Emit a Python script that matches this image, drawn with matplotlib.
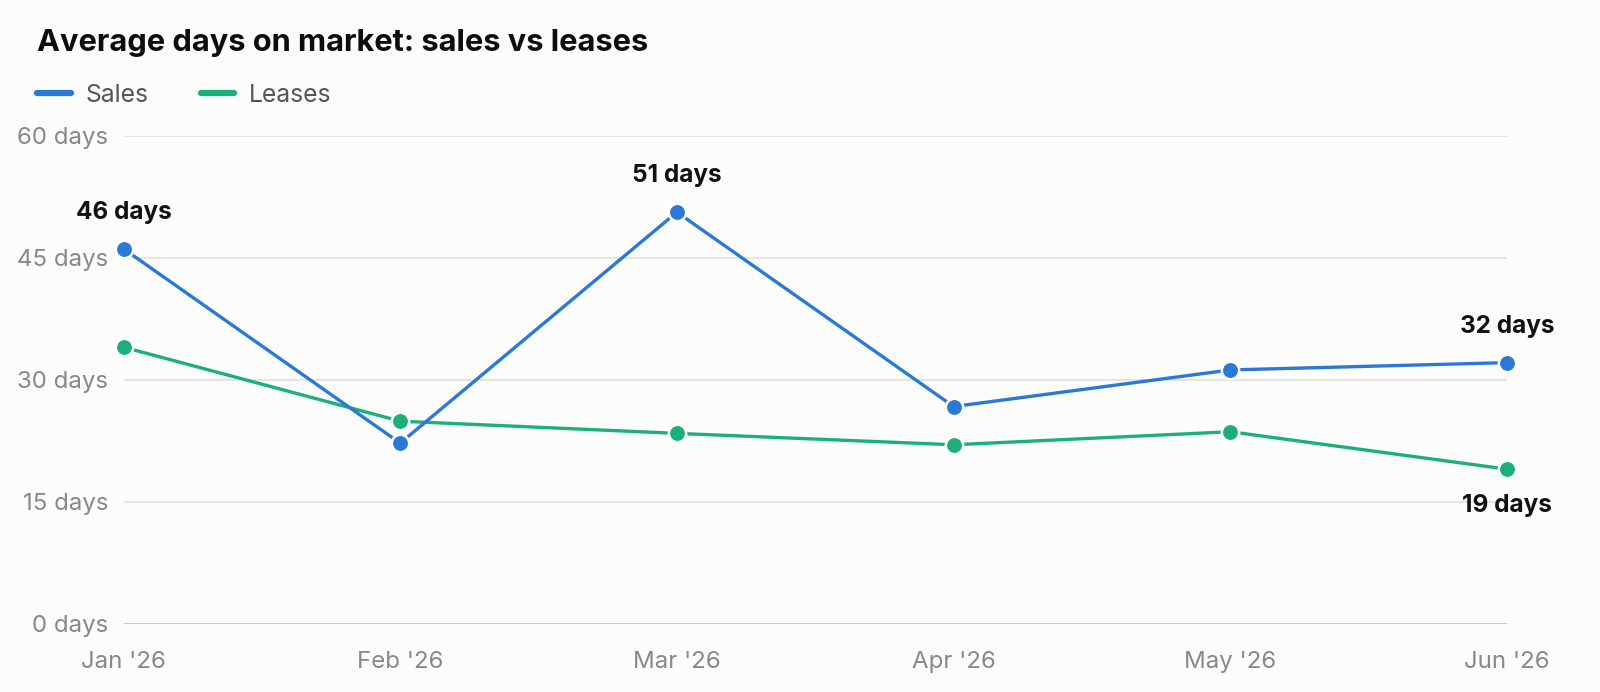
import matplotlib
matplotlib.use("Agg")
import matplotlib.pyplot as plt
from matplotlib.lines import Line2D

months = ["Jan '26", "Feb '26", "Mar '26", "Apr '26", "May '26", "Jun '26"]
sales = [46.1, 22.2, 50.6, 26.7, 31.2, 32.1]
leases = [34.0, 24.9, 23.4, 22.0, 23.6, 19.0]
yticks = [0, 15, 30, 45, 60]
ytick_labels = ["0 days", "15 days", "30 days", "45 days", "60 days"]
title = "Average days on market: sales vs leases"

SALES_C = "#2a78d8"
LEASE_C = "#1bb078"
BG = "#fcfcfa"

plt.rcParams['font.family'] = ['Inter', 'DejaVu Sans']

fig = plt.figure(figsize=(16, 6.92), dpi=100, facecolor=BG)
ax = fig.add_axes([0.0772, 0.0987, 0.8647, 0.7052], facecolor=BG)

x = list(range(len(months)))
for vals, c in ((leases, LEASE_C), (sales, SALES_C)):
    ax.plot(x, vals, color=c, lw=2.4, marker='o', markersize=12.5,
            markerfacecolor=c, markeredgecolor='white', markeredgewidth=1.8,
            clip_on=False, zorder=3, solid_capstyle='round')

ax.set_xlim(0, len(months) - 1)
ax.set_ylim(0, 60)
ax.set_yticks(yticks)
ax.set_yticklabels(ytick_labels)
ax.set_xticks(x)
ax.set_xticklabels(months)
for y in yticks:
    ax.axhline(y, color="#c4c4ba" if y == 0 else "#deded8", lw=1.3 if y == 0 else 1.1, zorder=1)
for s in ax.spines.values():
    s.set_visible(False)
ax.tick_params(axis='both', length=0, labelsize=17.3, labelcolor="#888884")
ax.tick_params(axis='y', pad=11)
ax.tick_params(axis='x', pad=20)

# value annotations
def lab(i, vals, above=True):
    ax.annotate(f"{round(vals[i])} days", (i, vals[i]),
                xytext=(0, 18 if above else -18), textcoords='offset points',
                ha='center', va='bottom' if above else 'top',
                fontsize=17.5, fontweight='bold', color="#111111",
                annotation_clip=False, zorder=4)

lab(0, sales)
lab(2, sales)
lab(5, sales)
lab(5, leases, above=False)

fig.text(37 / 1600, 1 - 43 / 692, title, fontsize=22.2, fontweight='bold',
         color="#0d0d0d", ha='left', va='center')

handles = [Line2D([0], [0], color=SALES_C, lw=4.5, solid_capstyle='round'),
           Line2D([0], [0], color=LEASE_C, lw=4.5, solid_capstyle='round')]
leg = fig.legend(handles, ["Sales", "Leases"], loc='center left',
                 bbox_to_anchor=(30 / 1600, 1 - 95 / 692), ncol=2,
                 frameon=False, fontsize=17.8, handlelength=1.35,
                 handletextpad=0.6, columnspacing=2.1, borderaxespad=0,
                 borderpad=0.3)
for t in leg.get_texts():
    t.set_color("#555555")

fig.savefig("out.png", dpi=100, facecolor=BG)
